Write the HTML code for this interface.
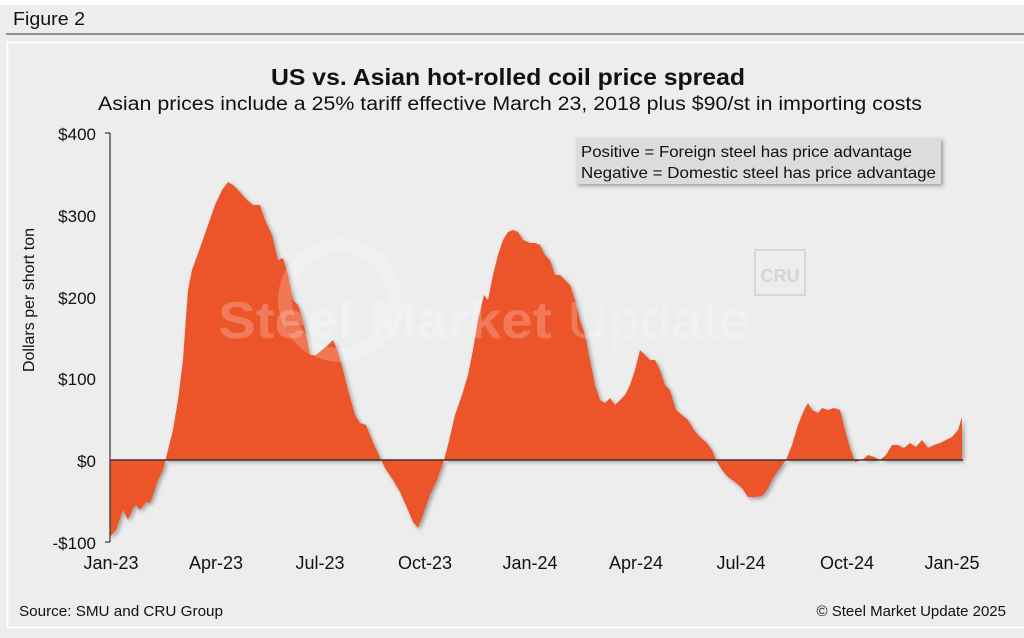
<!DOCTYPE html>
<html><head><style>
body{margin:0;background:#ededed;width:1024px;height:633px;overflow:hidden;font-family:"Liberation Sans",sans-serif}
</style></head><body>
<svg width="1024" height="633" xmlns="http://www.w3.org/2000/svg" font-family="Liberation Sans, sans-serif">
<rect width="1024" height="633" fill="#ffffff"/>
<rect x="0" y="5" width="1024" height="628" fill="#ededed"/>
<text x="13" y="25" font-size="18" textLength="72" lengthAdjust="spacingAndGlyphs" fill="#111">Figure 2</text>
<line x1="6" y1="34" x2="1024" y2="34" stroke="#333" stroke-width="1"/>
<rect x="7.5" y="42.5" width="1020" height="585" fill="#ededed" stroke="#fff" stroke-width="1.5"/>
<text x="271" y="85" font-size="23" font-weight="bold" textLength="474" lengthAdjust="spacingAndGlyphs" fill="#111">US vs. Asian hot-rolled coil price spread</text>
<text x="98" y="110" font-size="19" textLength="824" lengthAdjust="spacingAndGlyphs" fill="#111">Asian prices include a 25% tariff effective March 23, 2018 plus $90/st in importing costs</text>
<defs><filter id="sh" x="-5%" y="-5%" width="110%" height="120%"><feDropShadow dx="2" dy="2" stdDeviation="2" flood-color="#000" flood-opacity="0.35"/></filter></defs>
<path filter="url(#sh)" fill="#ec552a" d="M110,460 L110,537 116,530 123,510 128,520 133,508 136,505 140,510 146,502 150,503 153,495 158,480 163,470 168,450 173,430 178,400 183,360 188,290 192,270 200,248 208,225 215,205 222,190 228,182 233,185 240,192 247,200 253,205 260,205 265,220 272,235 278,260 283,258 288,275 293,300 298,305 303,320 310,355 316,355 322,350 328,345 333,340 338,352 343,370 348,390 355,415 360,423 366,425 372,440 381,460 385,468 393,480 400,492 408,510 413,522 418,528 423,515 430,495 437,480 444,460 448,445 455,415 462,395 468,375 473,350 478,320 484,295 488,300 493,275 498,255 503,240 508,232 513,230 518,232 523,240 530,243 535,243 540,245 545,255 550,260 555,275 560,275 565,280 570,285 575,300 580,320 585,335 590,360 595,385 600,400 605,403 610,398 615,405 620,400 625,395 630,385 635,370 640,350 645,355 650,360 655,360 660,370 665,385 670,390 676,410 682,415 688,420 694,430 700,437 706,442 712,450 716,460 722,470 728,477 735,482 742,488 748,497 754,497 762,496 767,490 773,478 780,468 786,460 792,445 798,425 804,410 808,403 812,410 818,413 822,408 828,410 834,408 840,410 845,430 850,448 855,462 862,460 868,455 874,457 880,460 886,455 892,445 898,445 904,448 910,443 916,447 922,440 928,448 934,445 940,443 946,440 952,437 958,430 962,417 962,460 Z"/>
<g fill="#ffffff">
<circle cx="340" cy="300" r="55" fill="none" stroke="#ffffff" stroke-width="14" opacity="0.2"/>
<text x="218" y="338" font-size="52" font-weight="bold" textLength="532" lengthAdjust="spacingAndGlyphs" opacity="0.22">Steel Market <tspan font-weight="normal">Update</tspan></text>
</g>
<rect x="755" y="250" width="50" height="45" fill="none" stroke="#d8d8d8" stroke-width="2"/>
<text x="780" y="282" font-size="18" font-weight="bold" text-anchor="middle" fill="#d4d4d4">CRU</text>
<line x1="110" y1="460" x2="963" y2="460" stroke="#222" stroke-width="1.3"/>
<line x1="110" y1="133" x2="110" y2="542" stroke="#333" stroke-width="1.2"/>
<g stroke="#333" stroke-width="1.2"><line x1="105" y1="133" x2="110" y2="133"/><line x1="105" y1="542" x2="110" y2="542"/></g>
<g font-size="17" fill="#111" text-anchor="end">
<text x="96" y="140">$400</text><text x="96" y="222">$300</text><text x="96" y="304">$200</text><text x="96" y="385">$100</text><text x="96" y="467">$0</text><text x="96" y="549">-$100</text>
</g>
<text transform="translate(34,300) rotate(-90)" font-size="16" text-anchor="middle" fill="#111">Dollars per short ton</text>
<g font-size="18" fill="#111" text-anchor="middle">
<text x="111" y="569">Jan-23</text><text x="216" y="569">Apr-23</text><text x="320" y="569">Jul-23</text><text x="425" y="569">Oct-23</text><text x="530" y="569">Jan-24</text><text x="636" y="569">Apr-24</text><text x="741" y="569">Jul-24</text><text x="847" y="569">Oct-24</text><text x="952" y="569">Jan-25</text>
</g>
<rect x="576" y="138" width="365" height="46" fill="#dcdcdc" filter="url(#sh)"/>
<text x="581" y="157" font-size="16" textLength="331" lengthAdjust="spacingAndGlyphs" fill="#111">Positive = Foreign steel has price advantage</text>
<text x="581" y="178" font-size="16" textLength="355" lengthAdjust="spacingAndGlyphs" fill="#111">Negative = Domestic steel has price advantage</text>
<text x="19" y="616" font-size="15" textLength="204" lengthAdjust="spacingAndGlyphs" fill="#111">Source: SMU and CRU Group</text>
<text x="1006" y="616" font-size="15" text-anchor="end" fill="#111">© Steel Market Update 2025</text>
</svg>
</body></html>
